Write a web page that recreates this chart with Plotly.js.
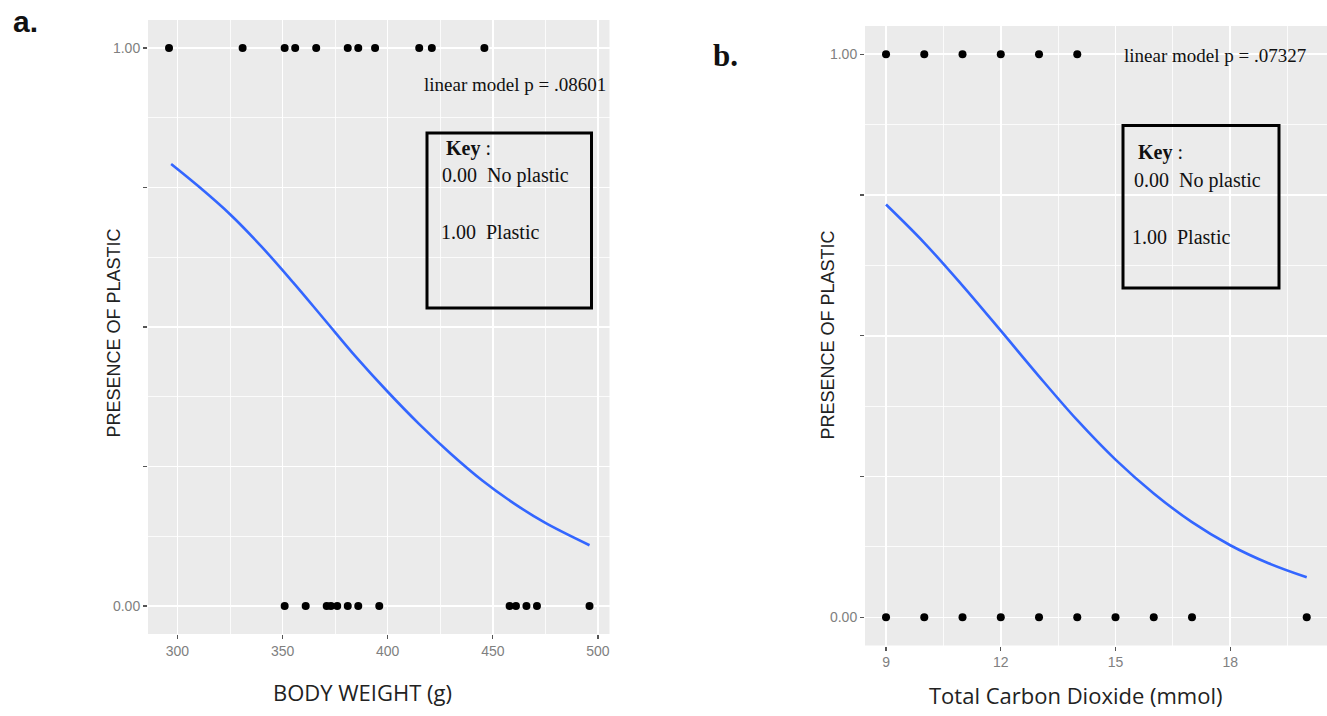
<!DOCTYPE html>
<html>
<head>
<meta charset="utf-8">
<script src="https://cdn.plot.ly/plotly-3.0.1.min.js"></script>
<style>html,body{margin:0;padding:0;background:#fff;}#chart{width:1327px;height:716px;}</style>
</head>
<body>
<div id="chart"></div>
<script>
// ---- Panel a: body weight ----
const weightPlastic = [296, 331, 351, 356, 366, 381, 386, 394, 415, 421, 446];
const weightNoPlastic = [351, 361, 371, 373, 376, 381, 386, 396, 458, 461, 466, 471, 496];
const weightCurveX = [297, 310, 325, 340, 355, 370, 385, 400, 415, 430, 445, 460, 475, 496];
const weightCurveY = [0.792, 0.752, 0.702, 0.644, 0.580, 0.513, 0.446, 0.384, 0.326, 0.273, 0.225, 0.184, 0.149, 0.109];

// ---- Panel b: total carbon dioxide ----
const co2Plastic = [9, 10, 11, 12, 13, 14];
const co2NoPlastic = [9, 10, 11, 12, 13, 14, 15, 16, 17, 20];
const co2CurveX = [9, 10, 11, 12, 13, 14, 15, 16, 17, 18, 19, 20];
const co2CurveY = [0.733, 0.665, 0.589, 0.509, 0.428, 0.350, 0.280, 0.220, 0.169, 0.128, 0.096, 0.071];

const yTickVals = [0, 0.25, 0.5, 0.75, 1];
const yTickText = ["0.00", "", "", "", "1.00"];
const weightTicks = [300, 350, 400, 450, 500];
const co2Ticks = [9, 12, 15, 18];

const W = 1327, H = 716;
const px = v => v / W;
const py = v => 1 - v / H;

const ptStyle = {color: '#000', size: 8};
const lineStyle = {color: '#3366FF', width: 2.6, shape: 'spline', smoothing: 1};

const traces = [
  {x: weightPlastic, y: weightPlastic.map(() => 1), type: 'scatter', mode: 'markers', marker: ptStyle, xaxis: 'x', yaxis: 'y'},
  {x: weightNoPlastic, y: weightNoPlastic.map(() => 0), type: 'scatter', mode: 'markers', marker: ptStyle, xaxis: 'x', yaxis: 'y'},
  {x: weightCurveX, y: weightCurveY, type: 'scatter', mode: 'lines', line: lineStyle, xaxis: 'x', yaxis: 'y'},
  {x: co2Plastic, y: co2Plastic.map(() => 1), type: 'scatter', mode: 'markers', marker: ptStyle, xaxis: 'x2', yaxis: 'y2'},
  {x: co2NoPlastic, y: co2NoPlastic.map(() => 0), type: 'scatter', mode: 'markers', marker: ptStyle, xaxis: 'x2', yaxis: 'y2'},
  {x: co2CurveX, y: co2CurveY, type: 'scatter', mode: 'lines', line: lineStyle, xaxis: 'x2', yaxis: 'y2'}
];

const tickFont = {family: 'Liberation Sans, Arial, sans-serif', size: 14, color: '#808080'};
const axisCommon = {
  showgrid: true, gridcolor: '#ffffff', gridwidth: 1.6, zeroline: false, showline: false,
  ticks: 'outside', ticklen: 4, tickwidth: 1.2, tickcolor: '#555', tickfont: tickFont, fixedrange: true
};

function yAxis(dom, anchor) {
  return Object.assign({}, axisCommon, {
    domain: dom, anchor: anchor, range: [-0.05, 1.05], tickmode: 'array',
    tickvals: yTickVals, ticktext: yTickText,
    minor: {tickmode: 'linear', tick0: 0.125, dtick: 0.25, showgrid: true, gridcolor: '#ffffff', gridwidth: 0.8, ticks: ''}
  });
}

const layout = {
  width: W, height: H,
  margin: {l: 0, r: 0, t: 0, b: 0},
  paper_bgcolor: '#ffffff', plot_bgcolor: '#EBEBEB',
  showlegend: false,
  xaxis: Object.assign({}, axisCommon, {
    domain: [px(148), px(609.5)], anchor: 'y', range: [286, 505.5],
    tickmode: 'array', tickvals: weightTicks,
    minor: {tickmode: 'linear', tick0: 275, dtick: 50, showgrid: true, gridcolor: '#ffffff', gridwidth: 0.8, ticks: ''}
  }),
  yaxis: yAxis([py(634), py(20)], 'x'),
  xaxis2: Object.assign({}, axisCommon, {
    domain: [px(865), 1], anchor: 'y2', range: [8.45, 20.53],
    tickmode: 'array', tickvals: co2Ticks,
    minor: {tickmode: 'linear', tick0: 10.5, dtick: 3, showgrid: true, gridcolor: '#ffffff', gridwidth: 0.8, ticks: ''}
  }),
  yaxis2: yAxis([py(645.5), py(26)], 'x2'),
  shapes: [
    {type: 'rect', xref: 'paper', yref: 'paper', x0: px(427), x1: px(591.5), y0: py(133), y1: py(308), line: {color: '#000', width: 3}},
    {type: 'rect', xref: 'paper', yref: 'paper', x0: px(1123), x1: px(1279), y0: py(125.5), y1: py(288), line: {color: '#000', width: 3}}
  ],
  annotations: []
};

const serif = 'Liberation Serif, Times New Roman, serif';
function ann(text, x, y, opts) {
  layout.annotations.push(Object.assign({
    text: text, xref: 'paper', yref: 'paper', x: px(x), y: py(y),
    xanchor: 'left', yanchor: 'middle', showarrow: false,
    font: {family: serif, size: 20, color: '#111'}
  }, opts || {}));
}

// panel labels
ann('<b>a.</b>', 25, 21, {xanchor: 'center', font: {family: 'Liberation Sans, Arial, sans-serif', size: 30, color: '#111'}});
ann('<b>b.</b>', 725, 55, {xanchor: 'center', font: {family: serif, size: 31, color: '#111'}});

// p-values
ann('linear model p = .08601', 608, 85, {xanchor: 'right', font: {family: serif, size: 19, color: '#111'}});
ann('linear model p = .07327', 1122, 55, {font: {family: serif, size: 19, color: '#111'}});

// keys
ann('<b>Key</b> :', 444, 148);
ann('0.00\u00A0 No plastic', 440, 175.5);
ann('1.00\u00A0 Plastic', 438.5, 232);
ann('<b>Key</b> :', 1136, 152);
ann('0.00\u00A0 No plastic', 1131.5, 180);
ann('1.00\u00A0 Plastic', 1129.5, 237);

// axis titles
const sans = {family: 'Liberation Sans, Arial, sans-serif', size: 18, color: '#222'};
ann('PRESENCE OF PLASTIC', 113.5, 333, {xanchor: 'center', textangle: -90, font: sans});
ann('PRESENCE OF PLASTIC', 828, 335.5, {xanchor: 'center', textangle: -90, font: sans});
const xt = {family: 'Open Sans, Noto Sans, sans-serif', size: 22, color: '#222'};
ann('BODY WEIGHT (g)', 362, 692, {xanchor: 'center', font: xt});
ann('Total Carbon Dioxide (mmol)', 1075.5, 695, {xanchor: 'center', font: xt});

Plotly.newPlot('chart', traces, layout, {staticPlot: true, displayModeBar: false});
</script>
</body>
</html>
